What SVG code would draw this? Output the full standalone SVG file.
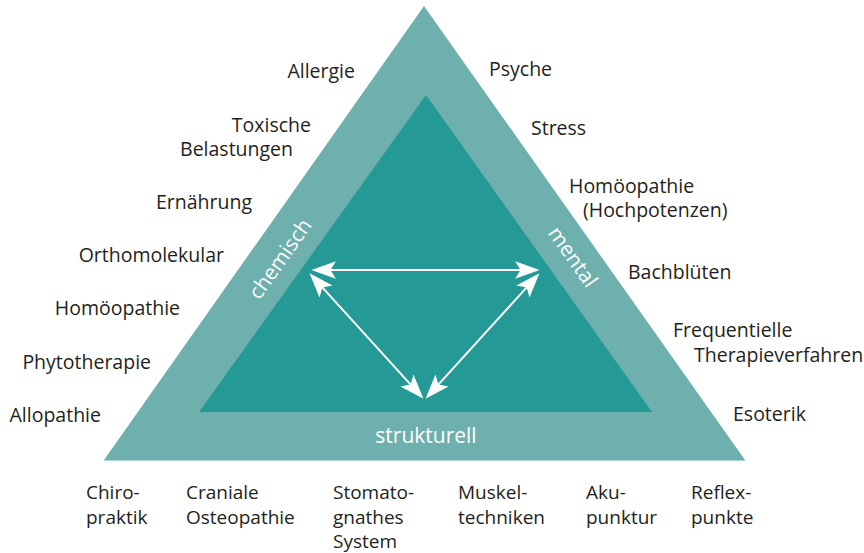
<svg xmlns="http://www.w3.org/2000/svg" width="864" height="553" viewBox="0 0 864 553">
<style>
.lbl{font-family:"Open Sans","Noto Sans","Liberation Sans",sans-serif;font-size:19.5px;fill:#231f20;}
.bl{font-size:19px;}
.wl{font-family:"Open Sans","Noto Sans","Liberation Sans",sans-serif;font-size:21px;fill:#ffffff;}
.arr{stroke:#ffffff;stroke-width:2;fill:none;marker-start:url(#ah);marker-end:url(#ah);}
</style>
<defs>
<marker id="ah" markerUnits="userSpaceOnUse" markerWidth="30" markerHeight="30" viewBox="-10 -10 22 20" refX="0" refY="0" orient="auto-start-reverse">
<path d="M10,0 L-8,-6.5 L-4,0 L-8,6.5 Z" fill="#ffffff"/>
</marker>
</defs>
<rect width="864" height="553" fill="#ffffff"/>
<g id="outer-triangle">
<polygon points="424,6 104,460 745,460" fill="#6eb0ad"/>
<line x1="104" y1="460.5" x2="745" y2="460.5" stroke="#a9d6d4" stroke-width="1"/>
</g>
<g id="inner-triangle">
<polygon points="426,95 199,412 652,412" fill="#249995"/>
</g>
<g id="connectors">
<line class="arr" x1="325" y1="270" x2="526" y2="270"/>
<line class="arr" x1="318.7" y1="283.4" x2="414.3" y2="388.6"/>
<line class="arr" x1="530.3" y1="283.4" x2="434.7" y2="388.6"/>
</g>
<g id="side-labels">
<text class="wl" text-anchor="middle" transform="translate(286,263) rotate(-54.8)">chemisch</text>
<text class="wl" text-anchor="middle" transform="translate(567,261) rotate(54.8)">mental</text>
<text class="wl" text-anchor="middle" x="426" y="443">strukturell</text>
</g>
<g id="left-labels" class="lbl" text-anchor="end">
<text class="lbl" x="355" y="78">Allergie</text>
<text class="lbl" x="311" y="132">Toxische</text>
<text class="lbl" x="293" y="156">Belastungen</text>
<text class="lbl" x="252" y="209">Ernährung</text>
<text class="lbl" x="224" y="262">Orthomolekular</text>
<text class="lbl" x="180" y="315">Homöopathie</text>
<text class="lbl" x="151" y="369">Phytotherapie</text>
<text class="lbl" x="101" y="422">Allopathie</text>
</g>
<g id="right-labels">
<text class="lbl" x="489" y="76">Psyche</text>
<text class="lbl" x="531" y="135">Stress</text>
<text class="lbl" x="569" y="193">Homöopathie</text>
<text class="lbl" x="583" y="217">(Hochpotenzen)</text>
<text class="lbl" x="628" y="279">Bachblüten</text>
<text class="lbl" x="673" y="337">Frequentielle</text>
<text class="lbl" x="694" y="362">Therapieverfahren</text>
<text class="lbl" x="733" y="421">Esoterik</text>
</g>
<g id="bottom-labels">
<text class="lbl bl" x="86" y="499">Chiro-</text>
<text class="lbl bl" x="86" y="524">praktik</text>
<text class="lbl bl" x="186" y="499">Craniale</text>
<text class="lbl bl" x="186" y="524">Osteopathie</text>
<text class="lbl bl" x="333" y="499">Stomato-</text>
<text class="lbl bl" x="333" y="524">gnathes</text>
<text class="lbl bl" x="333" y="548">System</text>
<text class="lbl bl" x="458" y="499">Muskel-</text>
<text class="lbl bl" x="458" y="524">techniken</text>
<text class="lbl bl" x="586" y="499">Aku-</text>
<text class="lbl bl" x="586" y="524">punktur</text>
<text class="lbl bl" x="691" y="499">Reflex-</text>
<text class="lbl bl" x="691" y="524">punkte</text>
</g>
</svg>
